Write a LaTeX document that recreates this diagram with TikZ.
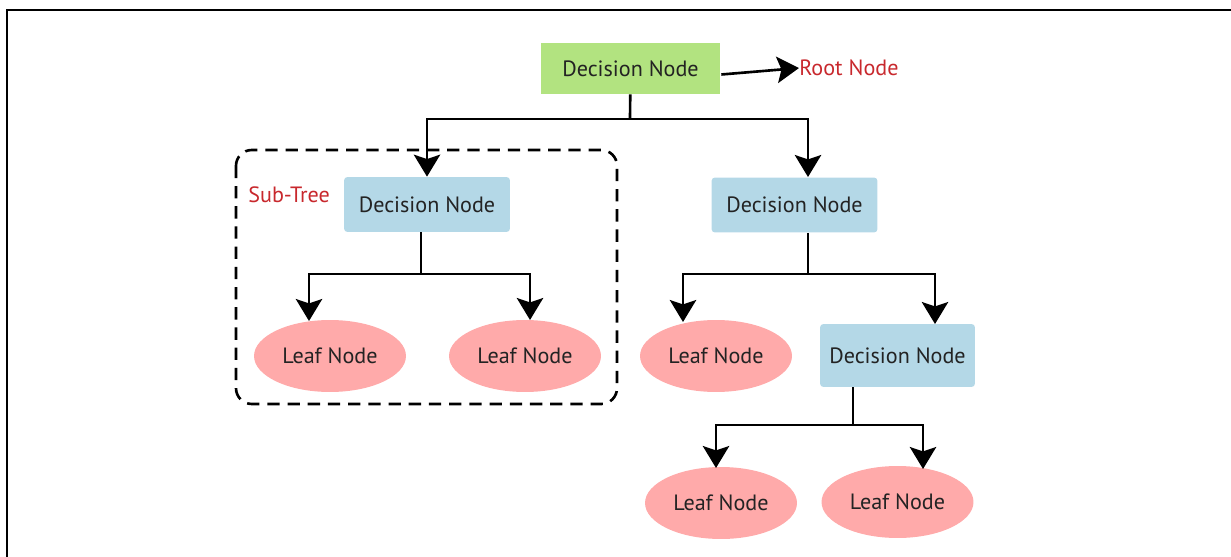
\documentclass[tikz,border=0pt]{standalone}
\usepackage{fontspec}
\setmainfont{PT Sans}
\usepackage{tikz}
\usetikzlibrary{arrows.meta,shapes.geometric}
\definecolor{rootgreen}{RGB}{178,227,128}
\definecolor{decblue}{RGB}{180,216,231}
\definecolor{leafpink}{RGB}{255,170,170}
\definecolor{notered}{RGB}{200,40,45}
\definecolor{textdark}{RGB}{35,35,35}

\begin{document}
\begin{tikzpicture}[x=0.02cm, y=-0.02cm,
  font=\fontsize{12.6}{14}\selectfont, text=textdark,
  rootbox/.style={fill=rootgreen, minimum width=3.58cm, minimum height=1.02cm, inner sep=0pt},
  decision/.style={fill=decblue, rounded corners=2pt, minimum width=3.32cm, minimum height=1.1cm, inner sep=0pt},
  leaf/.style={ellipse, fill=leafpink, minimum width=3.04cm, minimum height=1.44cm, inner sep=0pt},
  note/.style={text=notered, anchor=west, inner sep=0pt},
  link/.style={line width=1.5pt},
  arr/.style={link, -{Stealth[length=12.5pt,width=15pt,inset=2.5pt]}}]
\useasboundingbox (0,0) rectangle (1231,557);
\draw[line width=1.7pt] (7,557)--(7,10)--(1231,10);

\node[rootbox] (root) at (630.5,68.5) {Decision Node};
\node[note] (rootlbl) at (799,68) {Root Node};
\node[decision] (dl) at (427,204.5) {Decision Node};
\node[decision] (dr) at (794.5,205) {Decision Node};
\node[note] (subtree) at (248,195) {Sub-Tree};
\node[leaf] (l1) at (330,356) {Leaf Node};
\node[leaf] (l2) at (525,356) {Leaf Node};
\node[leaf] (l3) at (716,356) {Leaf Node};
\node[decision, minimum width=3.1cm, minimum height=1.26cm] (d3) at (897.5,355.5) {Decision Node};
\node[leaf] (l4) at (721,503) {Leaf Node};
\node[leaf] (l5) at (897.5,502) {Leaf Node};

\draw[link, dash pattern=on 7pt off 4.5pt, rounded corners=9pt] (236,150) rectangle (617,404);

\coordinate (rj) at (630,119);
\coordinate (drin) at (808,177);
\draw[arr] (root.east) ++(1,6) -- (rootlbl.west);
\draw[link] (root) -- (rj);
\draw[arr] (rj) -| (dl);
\draw[arr] (rj) -| (drin);

\coordinate (lj) at (421,274);
\coordinate (l1in) at (309,321);
\coordinate (l2in) at (530,320);
\draw[link] (lj |- dl.south) -- (lj);
\draw[arr] (lj) -| (l1in);
\draw[arr] (lj) -| (l2in);

\coordinate (rj2) at (808,274);
\coordinate (l3in) at (683,322);
\coordinate (d3in) at (935,324);
\draw[link] (rj2 |- dr.south) -- (rj2);
\draw[arr] (rj2) -| (l3in);
\draw[arr] (rj2) -| (d3in);

\coordinate (bj) at (853,425);
\coordinate (l4in) at (716,468);
\coordinate (l5in) at (923,469);
\draw[link] (bj |- d3.south) -- (bj);
\draw[arr] (bj) -| (l4in);
\draw[arr] (bj) -| (l5in);
\end{tikzpicture}
\end{document}
